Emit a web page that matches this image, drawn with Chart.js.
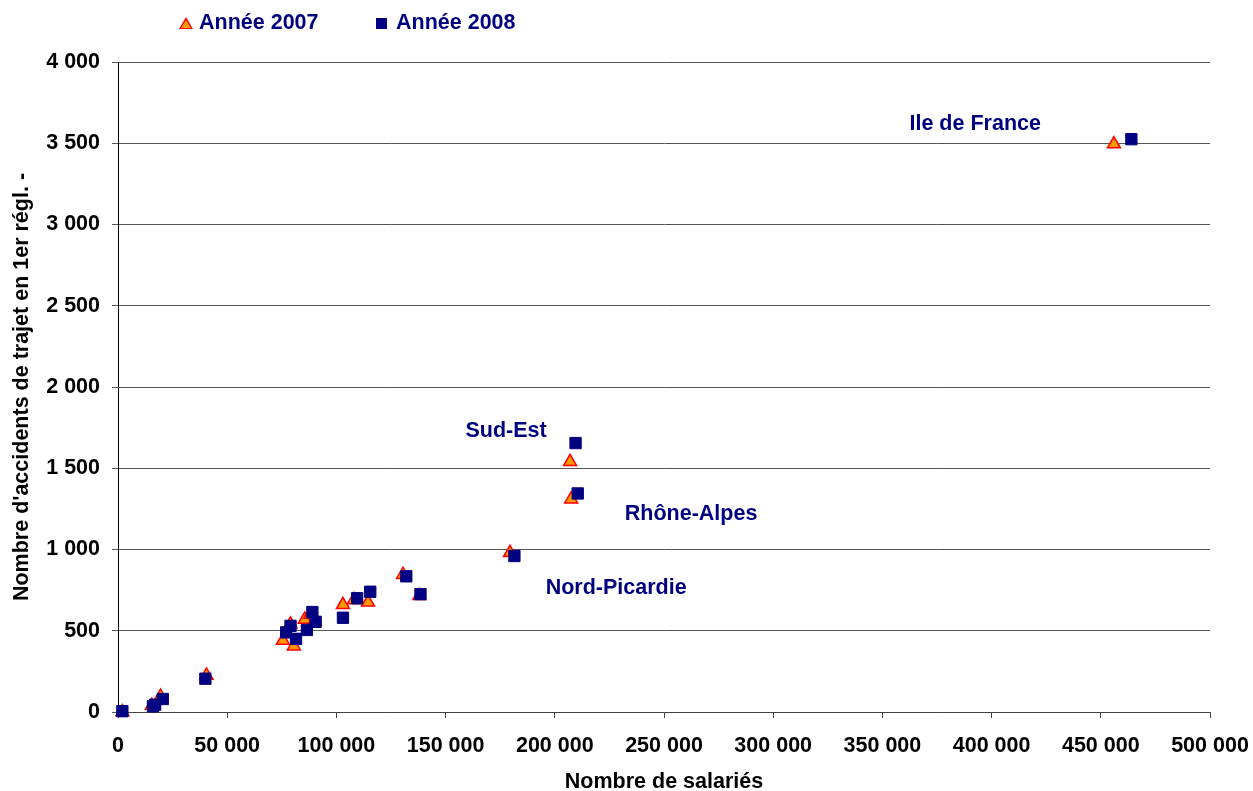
<!DOCTYPE html>
<html>
<head>
<meta charset="utf-8">
<script src="https://cdn.jsdelivr.net/npm/chart.js@4.4.1/dist/chart.umd.min.js"></script>
<style>
    html, body { margin: 0; padding: 0; background: #fff; }
    #wrap { position: relative; width: 1253px; height: 791px; }
    #legend { position: absolute; top: 10px; left: 179px; font: bold 21.5px "Liberation Sans", Arial, sans-serif; color: #000080; }
    #legend span.item { position: absolute; white-space: nowrap; top: 0; }
    .tri { display: inline-block; width: 0; height: 0; border-left: 7px solid transparent; border-right: 7px solid transparent; border-bottom: 12px solid #ff0000; position: relative; margin-right: 6px; }
    .tri::after { content: ''; position: absolute; left: -5px; top: 3px; border-left: 5px solid transparent; border-right: 5px solid transparent; border-bottom: 8px solid #ff9900; }
    .sq { display: inline-block; width: 11px; height: 11px; background: #000080; margin-right: 9px; }
</style>
</head>
<body>
<div id="wrap">
    <canvas id="myChart" width="1253" height="791"></canvas>
    <div id="legend">
        <span class="item" style="left:0"><span class="tri"></span>Année 2007</span>
        <span class="item" style="left:197px"><span class="sq"></span>Année 2008</span>
    </div>
</div>
<script>
// Année 2007
const salaries2007 = [2000, 15500, 19500, 40500, 75500, 79000, 80500, 85500, 88000, 90000, 103000, 108000, 114500, 130500, 138000, 179500, 207000, 207500, 456000];
const accidents2007 = [0, 40, 95, 225, 440, 540, 405, 570, 600, 560, 660, 690, 675, 845, 715, 980, 1540, 1310, 3495];

// Année 2008
const salaries2008 = [2000, 16000, 17000, 20500, 40000, 77000, 79000, 81500, 86500, 89000, 90500, 103000, 109500, 115500, 132000, 138500, 181500, 209500, 210500, 464000];
const accidents2008 = [5, 35, 45, 80, 205, 490, 530, 450, 505, 615, 555, 580, 700, 740, 835, 725, 960, 1655, 1345, 3525];

// region labels (anchored in data units)
const regionNames = ['Ile de France', 'Sud-Est', 'Rhône-Alpes', 'Nord-Picardie'];
const regionX = [392500, 177700, 262400, 228100];
const regionY = [3620, 1730, 1215, 760];

const FONT = '"Liberation Sans", Arial, sans-serif';
const FSIZE = 21.5;
const NAVY = '#000080';

function fmt(v) {
    return String(v).replace(/\B(?=(\d{3})+(?!\d))/g, ' ');
}

function toPoints(xs, ys) {
    return xs.map((x, i) => ({ x: x, y: ys[i] }));
}

const regionLabels = {
    id: 'regionLabels',
    afterDatasetsDraw(chart) {
        const c = chart.ctx;
        const sx = chart.scales.x, sy = chart.scales.y;
        c.save();
        c.font = 'bold ' + FSIZE + 'px ' + FONT;
        c.fillStyle = NAVY;
        c.textAlign = 'center';
        c.textBaseline = 'middle';
        regionNames.forEach((name, i) => {
            c.fillText(name, sx.getPixelForValue(regionX[i]), sy.getPixelForValue(regionY[i]));
        });
        c.restore();
    }
};

const ctx1 = document.getElementById('myChart');

new Chart(ctx1, {
    type: 'scatter',
    data: {
        datasets: [
            {
                label: 'Année 2007',
                data: toPoints(salaries2007, accidents2007),
                pointStyle: 'triangle',
                pointRadius: 7.5,
                backgroundColor: '#ff9900',
                borderColor: '#ff0000',
                borderWidth: 1.5,
                clip: false,
                order: 1
            },
            {
                label: 'Année 2008',
                data: toPoints(salaries2008, accidents2008),
                pointStyle: 'rect',
                pointRadius: 8,
                backgroundColor: NAVY,
                borderColor: NAVY,
                borderWidth: 1,
                clip: false,
                order: 0
            }
        ]
    },
    options: {
        responsive: false,
        animation: false,
        layout: {
            padding: { top: 62, right: 43, left: 0, bottom: 0 }
        },
        plugins: {
            legend: { display: false },
            tooltip: { enabled: false }
        },
        scales: {
            x: {
                type: 'linear',
                min: 0,
                max: 500000,
                afterFit: (scale) => {
                    scale.height = 79;
                    scale.paddingLeft = 0;
                    scale.paddingRight = 0;
                },
                ticks: {
                    stepSize: 50000,
                    color: '#000',
                    padding: 15,
                    maxRotation: 0,
                    font: { family: FONT, size: FSIZE, weight: 'bold' },
                    callback: (v) => fmt(v)
                },
                grid: {
                    drawOnChartArea: false,
                    drawTicks: true,
                    tickLength: 6,
                    color: '#444'
                },
                border: { color: '#444', width: 1 },
                title: {
                    display: true,
                    text: 'Nombre de salariés',
                    color: '#000',
                    padding: { top: 0, bottom: 0 },
                    font: { family: FONT, size: FSIZE, weight: 'bold', lineHeight: 0.8 }
                }
            },
            y: {
                type: 'linear',
                min: 0,
                max: 4000,
                afterFit: (scale) => { scale.width = 118; },
                ticks: {
                    stepSize: 500,
                    color: '#000',
                    padding: 12,
                    font: { family: FONT, size: FSIZE, weight: 'bold' },
                    callback: (v) => fmt(v)
                },
                grid: {
                    color: '#555',
                    tickLength: 6,
                    tickColor: '#555'
                },
                border: { color: '#000', width: 1 },
                title: {
                    display: true,
                    text: "Nombre d'accidents de trajet en 1er régl. -",
                    color: '#000',
                    padding: { top: 9, bottom: 0 },
                    font: { family: FONT, size: FSIZE, weight: 'bold', lineHeight: 1.2 }
                }
            }
        }
    },
    plugins: [regionLabels]
});
</script>
</body>
</html>
